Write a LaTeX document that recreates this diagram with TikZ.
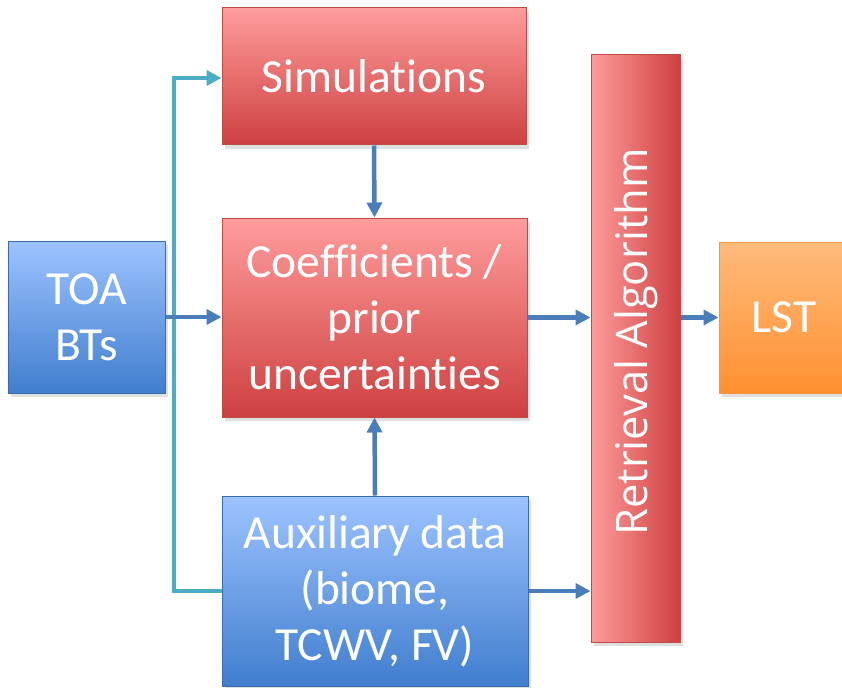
\documentclass[tikz,border=0pt]{standalone}
\usepackage{fontspec}
\setmainfont[Ligatures=NoCommon]{Carlito}
\newfontfamily\retrfont{Open Sans}
\usetikzlibrary{arrows.meta,shadows}
\definecolor{redtop}{HTML}{FF9C9C}
\definecolor{redbot}{HTML}{CE4040}
\definecolor{redline}{HTML}{BE4B48}
\definecolor{bluetop}{HTML}{9DC3FF}
\definecolor{bluebot}{HTML}{407ECE}
\definecolor{blueline}{HTML}{3A6AB0}
\definecolor{orangetop}{HTML}{FFBB7C}
\definecolor{orangebot}{HTML}{FF9030}
\definecolor{orangeline}{HTML}{F79646}
\definecolor{arrowblue}{HTML}{4A7EBB}
\definecolor{cyanline}{HTML}{4BACC6}
\tikzset{
  box/.style={draw,line width=1pt,align=center,text=white,
    font=\fontsize{47.5}{56}\selectfont,inner sep=0pt,
    drop shadow={opacity=0.25,shadow xshift=3pt,shadow yshift=-4pt}},
  redbox/.style={box,draw=redline,top color=redtop,bottom color=redbot},
  bluebox/.style={box,draw=blueline,top color=bluetop,bottom color=bluebot},
  flow/.style={draw=arrowblue,line width=4.5pt,-{Triangle[length=15pt,width=15pt]}},
  feed/.style={draw=cyanline,line width=4.5pt,-{Triangle[length=15pt,width=15pt]}}
}
\begin{document}
\begin{tikzpicture}[x=1pt,y=-1pt]
  \useasboundingbox[fill=white] (0,0) rectangle (842,687);
  \node[redbox,minimum width=304pt,minimum height=137pt] (sim) at (374,76.5) {Simulations};
  \node[redbox,minimum width=305pt,minimum height=199pt] (coef) at (374.5,317.5) {Coefficients /\\prior\\uncertainties};
  \node[bluebox,minimum width=306pt,minimum height=190pt] (aux) at (375,591) {Auxiliary data\\(biome,\\TCWV, FV)};
  \node[bluebox,minimum width=157pt,minimum height=152pt] (toa) at (86.5,317) {TOA\\BTs};
  \node[box,draw=redline,left color=redtop,right color=redbot,minimum width=89pt,minimum height=587pt] (retr) at (635.5,348.5) {};
  \node[rotate=90,text=white,font=\retrfont\fontsize{43.5}{52}\selectfont] (retrtext) at (636,342) {Retrieval Algorithm};
  \node[box,draw=orangeline,top color=orangetop,bottom color=orangebot,minimum width=130pt,minimum height=151pt] (lst) at (784,317.5) {LST};
  \coordinate (feedbot) at (174,591);
  \coordinate (feedtop) at (174,78);
  \draw[feed] (aux.west|-feedbot) -- (feedbot) -- (feedtop) -- (sim.west|-feedtop);
  \draw[flow] (toa.east) -- (coef.west|-toa.east);
  \draw[flow] (sim.south) -- (coef.north);
  \draw[flow] (aux.north) -- (coef.south);
  \draw[flow] (coef.east) -- (retr.west|-coef.east);
  \draw[flow] (aux.east) -- (retr.west|-aux.east);
  \draw[flow] (retr.east|-lst.west) -- (lst.west);
\end{tikzpicture}
\end{document}
